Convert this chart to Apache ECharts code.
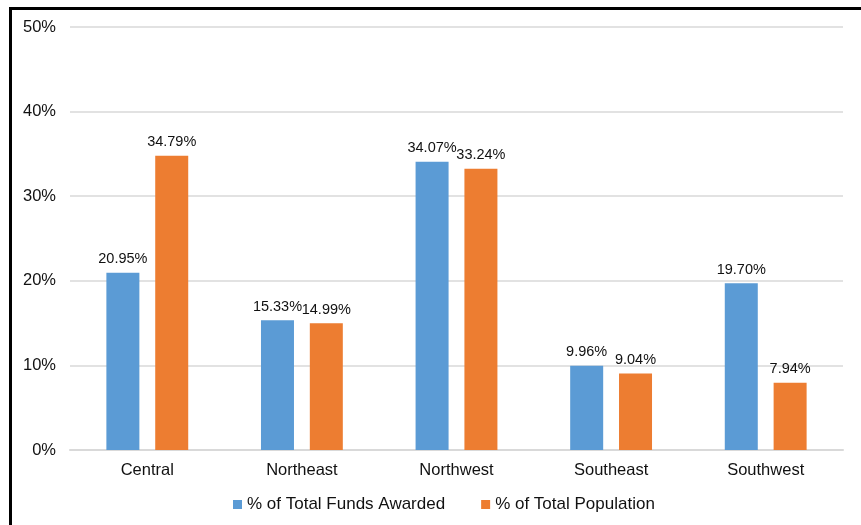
<!DOCTYPE html>
<html>
<head>
<meta charset="utf-8">
<script src="https://cdn.jsdelivr.net/npm/echarts@6/dist/echarts.min.js"></script>
<style>
  html, body { margin: 0; padding: 0; background: #fff; }
  #frame {
    position: absolute; left: 9px; top: 7px; width: 849px; height: 530px;
    border-top: 3px solid #000; border-left: 3px solid #000; border-right: 1px solid #ccc;
  }
  #chart { position: absolute; left: 0; top: 0; width: 861px; height: 525px; }
</style>
</head>
<body>
<div id="frame"></div>
<div id="chart"></div>
<script>
const regions = ["Central", "Northeast", "Northwest", "Southeast", "Southwest"];
const fundsAwarded = [20.95, 15.33, 34.07, 9.96, 19.70];
const totalPopulation = [34.79, 14.99, 33.24, 9.04, 7.94];

const chart = echarts.init(document.getElementById("chart"));
const labelStyle = {
  show: true,
  position: "top",
  distance: 6,
  color: "#111",
  fontSize: 14.5,
  fontFamily: "Liberation Sans",
  formatter: (p) => p.value.toFixed(2) + "%"
};

chart.setOption({
  animation: false,
  textStyle: { fontFamily: "Liberation Sans" },
  grid: { left: 70, right: 18, top: 27, bottom: 75 },
  legend: {
    left: 228,
    bottom: 7,
    icon: "rect",
    itemWidth: 9,
    itemHeight: 9,
    itemGap: 36,
    textStyle: { fontSize: 17, color: "#111" },
    data: ["% of Total Funds Awarded", "% of Total Population"]
  },
  xAxis: {
    type: "category",
    data: regions,
    axisLine: { lineStyle: { color: "#d9d9d9", width: 2 } },
    axisTick: { show: false },
    axisLabel: { color: "#111", fontSize: 16.5, margin: 12 }
  },
  yAxis: {
    type: "value",
    min: 0,
    max: 50,
    interval: 10,
    axisLabel: { color: "#111", fontSize: 16.5, margin: 14, formatter: "{value}%" },
    splitLine: { lineStyle: { color: "#d9d9d9", width: 1.5 } },
    axisLine: { show: false },
    axisTick: { show: false }
  },
  series: [
    {
      name: "% of Total Funds Awarded",
      type: "bar",
      data: fundsAwarded,
      barWidth: 33,
      barGap: "48%",
      itemStyle: { color: "#5b9bd5" },
      label: labelStyle
    },
    {
      name: "% of Total Population",
      type: "bar",
      data: totalPopulation,
      barWidth: 33,
      itemStyle: { color: "#ed7d31" },
      label: labelStyle
    }
  ]
});
</script>
</body>
</html>
